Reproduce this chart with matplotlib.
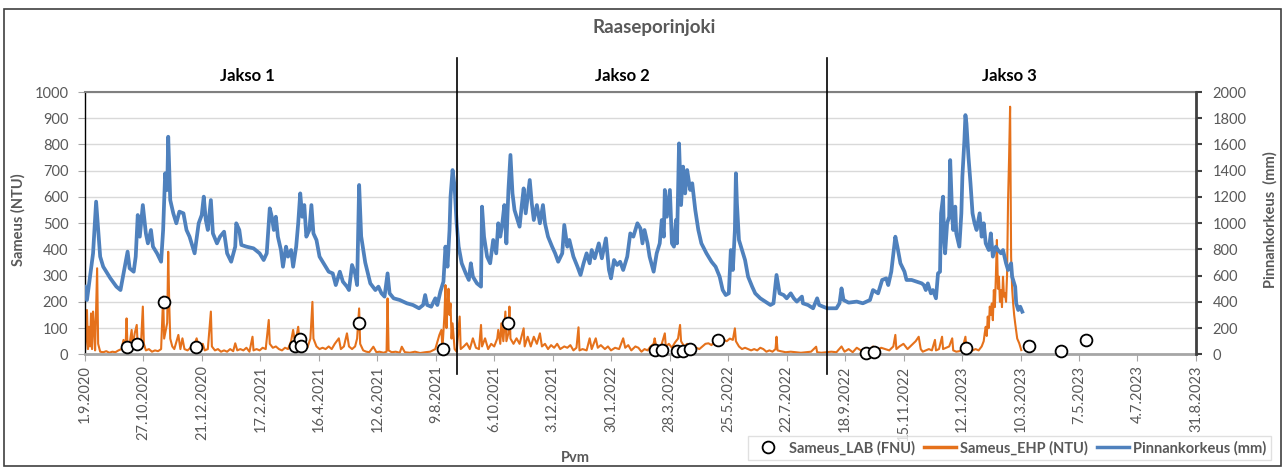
import numpy as np
import matplotlib.pyplot as plt
import matplotlib.dates as mdates
import matplotlib.transforms as mtransforms
from matplotlib.lines import Line2D
from matplotlib.patches import Rectangle

plt.rcParams['font.family'] = ['Lato', 'DejaVu Sans']

###############################################################################
# data: Raaseporinjoki, days counted from 1.9.2020
#
alku = np.datetime64('2020-09-01')
loppu = np.datetime64('2023-08-31')

# Pinnankorkeus (mm), right axis
pv_pinta_1 = [0, 2, 5, 8, 11, 15, 18, 25, 31, 35,
              38, 42, 44, 48, 50, 52, 54, 57, 60, 62,
              65, 67, 71, 75, 77, 79, 81, 82, 83, 84,
              87, 90, 93, 97, 100, 103, 108, 112, 115, 117,
              119, 121, 124, 126, 130, 133, 137, 140, 144, 148,
              149, 152, 154, 159, 166, 172, 176, 179, 182, 184,
              186, 188, 190, 193, 195, 198, 200, 203, 205, 208,
              210, 212, 214, 216, 218, 221, 223, 225, 228, 231,
              236, 240, 244, 247, 251, 254, 258, 260, 263, 266,
              268, 270, 272, 276, 281, 286, 289, 292, 295, 298,
              300, 304, 310, 317, 323, 329, 333, 335, 337, 341,
              345, 347, 350, 353, 355, 357, 359, 360, 362, 364]
mm_pinta_1 = [516, 414, 592, 770, 1164, 745, 668, 580, 516, 490,
              617, 783, 656, 630, 745, 1062, 897, 1138, 922, 846,
              948, 821, 770, 706, 948, 1380, 1253, 1659, 1405, 1176,
              1075, 999, 1088, 1075, 948, 897, 770, 999, 1062, 1202,
              1024, 948, 1176, 922, 846, 897, 935, 770, 706, 821,
              999, 948, 834, 821, 808, 770, 719, 770, 1113, 1049,
              948, 1049, 897, 795, 668, 821, 745, 795, 668, 821,
              999, 1227, 1049, 1138, 897, 948, 1138, 922, 871, 745,
              681, 630, 617, 528, 630, 554, 516, 490, 681, 617,
              528, 1291, 900, 700, 541, 490, 516, 465, 440, 617,
              465, 427, 414, 389, 376, 351, 376, 452, 376, 363,
              427, 376, 478, 554, 821, 668, 948, 1202, 1405, 1278]

pv_pinta_2 = [366, 368, 371, 375, 378, 380, 382, 386, 390, 391,
              393, 396, 399, 402, 405, 407, 409, 411, 413, 415,
              417, 419, 421, 423, 425, 428, 430, 432, 434, 436,
              438, 440, 442, 445, 448, 451, 453, 456, 460, 463,
              466, 470, 472, 475, 477, 481, 485, 488, 491, 494,
              497, 499, 502, 506, 509, 513, 516, 518, 521, 524,
              527, 530, 534, 537, 540, 544, 547, 549, 551, 554,
              556, 560, 563, 566, 568, 570, 571, 573, 576, 578,
              580, 582, 583, 585, 587, 589, 591, 593, 596, 598,
              601, 604, 607, 612, 617, 621, 625, 628, 631, 634,
              636, 638, 640, 641, 642, 644, 647, 650, 653, 657,
              660, 665, 670, 675, 678, 681, 684, 688, 691, 695,
              698, 701, 706, 707, 712, 717, 721, 723, 727, 731]
mm_pinta_2 = [999, 821, 694, 617, 567, 694, 592, 541, 516, 1126,
              897, 745, 694, 872, 770, 999, 897, 999, 1138, 846,
              1253, 1520, 1227, 1100, 1049, 973, 1126, 1265, 1075, 1202,
              1329, 1151, 1024, 1138, 999, 1138, 999, 897, 821, 770,
              706, 770, 986, 821, 872, 745, 668, 605, 694, 770,
              694, 795, 732, 846, 732, 884, 643, 579, 719, 681,
              706, 643, 745, 922, 897, 999, 960, 846, 948, 846,
              745, 630, 770, 846, 1024, 897, 1253, 1049, 1253, 846,
              821, 1024, 846, 1608, 1138, 1431, 1227, 1405, 1253, 1304,
              1100, 948, 846, 770, 706, 668, 592, 490, 452, 465,
              795, 643, 948, 1380, 1151, 872, 795, 719, 592, 516,
              465, 427, 402, 376, 389, 605, 465, 452, 427, 465,
              427, 402, 440, 389, 376, 351, 427, 376, 363, 351]

pv_pinta_3 = [740, 743, 745, 747, 752, 760, 766, 773, 776, 781,
              785, 789, 791, 794, 798, 800, 803, 807, 809, 814,
              819, 824, 826, 828, 830, 833, 835, 838, 840, 842,
              843, 845, 846, 847, 849, 851, 852, 854, 855, 857,
              858, 861, 863, 864, 866, 867, 868, 870, 872, 874,
              876, 878, 881, 883, 885, 887, 890, 892, 894, 897,
              899, 902, 904, 907, 909, 912, 913, 916, 917, 919,
              921, 923]
mm_pinta_3 = [351, 389, 503, 414, 394, 402, 389, 414, 490, 465,
              567, 579, 528, 630, 897, 821, 694, 630, 567, 567,
              554, 541, 528, 490, 541, 465, 490, 427, 617, 630,
              1075, 1202, 872, 770, 999, 1049, 1481, 1049, 948, 1126,
              922, 821, 1075, 1354, 1634, 1824, 1761, 1507, 1304, 1075,
              999, 948, 1075, 897, 999, 846, 795, 922, 745, 821,
              795, 770, 795, 694, 643, 694, 592, 516, 389, 338,
              363, 325]

# Sameus_EHP (NTU), left axis
pv_ehp_1 = [0, 1, 2, 3, 4, 5, 6, 7, 8, 9,
            10, 12, 13, 15, 18, 21, 24, 27, 30, 33,
            36, 38, 40, 41, 42, 44, 46, 47, 49, 51,
            52, 55, 57, 58, 60, 63, 66, 69, 72, 75,
            77, 78, 81, 82, 83, 84, 86, 88, 92, 94,
            96, 98, 101, 104, 107, 110, 112, 114, 116, 118,
            121, 124, 125, 128, 131, 134, 137, 140, 143, 146,
            148, 150, 153, 156, 159, 162, 165, 166, 169, 172,
            175, 178, 181, 182, 185, 188, 191, 194, 197, 200,
            203, 205, 207, 210, 211, 213, 216, 219, 222, 224,
            225, 228, 231, 234, 237, 240, 243, 246, 250, 252,
            255, 258, 260, 263, 266, 268, 270, 271, 274, 277,
            280, 284, 287, 290, 294, 297, 298, 299, 302, 306,
            310, 312, 315, 320, 325, 330, 335, 340, 345, 349,
            351, 352, 354, 355, 356, 357, 358, 359, 360, 361,
            362, 364]
ntu_ehp_1 = [10, 60, 169, 20, 105, 30, 156, 20, 163, 105,
             15, 328, 40, 10, 8, 12, 6, 10, 8, 15,
             20, 55, 25, 137, 20, 40, 93, 30, 80, 112,
             30, 25, 182, 40, 15, 20, 10, 15, 12, 20,
             220, 60, 120, 391, 194, 60, 30, 20, 74, 20,
             61, 20, 15, 25, 30, 61, 30, 20, 40, 15,
             20, 163, 30, 15, 20, 10, 15, 10, 20, 12,
             42, 15, 20, 15, 25, 10, 67, 15, 20, 15,
             25, 20, 131, 40, 25, 30, 20, 15, 25, 20,
             50, 93, 40, 105, 60, 30, 40, 25, 60, 200,
             60, 30, 20, 25, 20, 30, 20, 40, 61, 20,
             30, 80, 30, 20, 30, 60, 175, 40, 15, 10,
             8, 29, 8, 10, 6, 10, 213, 15, 8, 10,
             6, 29, 8, 6, 10, 5, 8, 10, 20, 74,
             93, 20, 150, 264, 100, 182, 250, 150, 194, 60,
             118, 20]

pv_ehp_2 = [366, 369, 370, 373, 376, 379, 382, 385, 388, 390,
            391, 394, 397, 400, 403, 406, 407, 409, 410, 412,
            414, 415, 417, 418, 419, 422, 425, 428, 432, 433,
            436, 439, 442, 445, 448, 450, 453, 456, 459, 462,
            465, 468, 472, 475, 478, 481, 484, 486, 487, 490,
            494, 497, 499, 503, 505, 508, 512, 515, 518, 522,
            526, 530, 532, 535, 538, 542, 545, 548, 551, 554,
            557, 560, 561, 563, 566, 568, 571, 572, 575, 578,
            581, 584, 586, 587, 590, 593, 596, 599, 602, 605,
            608, 611, 614, 617, 620, 623, 626, 629, 632, 635,
            638, 640, 641, 644, 647, 650, 653, 656, 659, 662,
            665, 668, 671, 674, 677, 680, 681, 682, 685, 690,
            695, 700, 705, 710, 715, 720, 721, 725, 730]
ntu_ehp_2 = [10, 144, 20, 30, 42, 20, 61, 25, 20, 112,
             30, 61, 20, 40, 30, 60, 93, 40, 118, 50,
             163, 50, 80, 182, 60, 40, 61, 40, 99, 30,
             67, 30, 67, 40, 80, 30, 40, 20, 35, 25,
             40, 20, 30, 25, 35, 15, 25, 103, 15, 20,
             15, 61, 20, 61, 25, 35, 20, 30, 15, 25,
             20, 61, 25, 35, 15, 30, 25, 10, 20, 15,
             30, 40, 61, 20, 25, 40, 80, 30, 40, 25,
             45, 60, 112, 50, 30, 40, 20, 15, 25, 20,
             30, 40, 42, 35, 50, 55, 45, 55, 50, 60,
             55, 99, 50, 30, 20, 25, 20, 15, 20, 15,
             25, 20, 10, 15, 10, 20, 67, 15, 12, 8,
             10, 8, 6, 8, 10, 29, 8, 6, 8]

pv_ehp_3 = [735, 740, 745, 748, 752, 756, 760, 764, 768, 772,
            776, 780, 784, 788, 792, 796, 798, 799, 802, 806,
            810, 814, 818, 821, 823, 825, 828, 831, 834, 837,
            838, 841, 844, 845, 848, 851, 854, 855, 858, 861,
            864, 867, 868, 871, 874, 877, 880, 883, 885, 886,
            887, 888, 889, 890, 891, 892, 893, 894, 895, 896,
            897, 898, 899, 900, 901, 902, 903, 904, 905, 906,
            907, 908, 909, 910, 911, 912, 913, 914, 915, 916,
            918, 920, 922]
ntu_ehp_3 = [10, 8, 30, 10, 20, 8, 25, 15, 20, 10,
             30, 15, 25, 20, 15, 30, 74, 20, 30, 40,
             20, 35, 50, 67, 20, 10, 15, 20, 15, 55,
             15, 20, 67, 20, 25, 30, 61, 15, 10, 12,
             20, 67, 20, 10, 15, 20, 15, 30, 50, 80,
             105, 70, 144, 100, 182, 150, 194, 130, 245, 180,
             300, 436, 250, 296, 200, 245, 180, 296, 220, 233,
             200, 302, 588, 750, 944, 372, 250, 194, 150, 118,
             60, 42, 16]

# Sameus_LAB (FNU), lab samples
lab_pvm = ['2020-10-12', '2020-10-22', '2020-11-18', '2020-12-19',
           '2021-03-27', '2021-04-01', '2021-04-02', '2021-05-29',
           '2021-08-20', '2021-10-23', '2022-03-16', '2022-03-23',
           '2022-04-07', '2022-04-13', '2022-04-20', '2022-05-17',
           '2022-10-10', '2022-10-18', '2023-01-17', '2023-03-20',
           '2023-04-20', '2023-05-15']
lab_fnu = [29, 40, 200, 29, 31, 58, 31, 120, 20, 120, 17, 17,
           14, 14, 21, 55, 5, 7, 24, 32, 12, 54]

# period borders and names
jakso_rajat = ['2021-09-02', '2022-09-02']
jaksot = ['Jakso 1', 'Jakso 2', 'Jakso 3']

pvm_tekstit = ['1.9.2020', '27.10.2020', '21.12.2020', '17.2.2021', '16.4.2021',
               '12.6.2021', '9.8.2021', '6.10.2021', '3.12.2021', '30.1.2022',
               '28.3.2022', '25.5.2022', '22.7.2022', '18.9.2022', '15.11.2022',
               '12.1.2023', '10.3.2023', '7.5.2023', '4.7.2023', '31.8.2023']

###############################################################################
SININEN = '#4F81BD'
ORANSSI = '#E5711B'
HARMAA = '#595959'

def paivat(pv):
    return alku + np.array(pv).astype('timedelta64[D]')

x_pinta = paivat(pv_pinta_1 + pv_pinta_2 + pv_pinta_3)
y_pinta = mm_pinta_1 + mm_pinta_2 + mm_pinta_3
x_ehp = paivat(pv_ehp_1 + pv_ehp_2 + pv_ehp_3)
y_ehp = ntu_ehp_1 + ntu_ehp_2 + ntu_ehp_3
x_lab = np.array(lab_pvm, dtype='datetime64[D]')

fig = plt.figure(figsize=(12.85, 4.68), dpi=100)
ax = fig.add_axes([0.0661, 0.2429, 0.8646, 0.5605])
ax2 = ax.twinx()

ax.plot(x_ehp, y_ehp, color=ORANSSI, lw=1.5)
ax2.plot(x_pinta, y_pinta, color=SININEN, lw=2.7)
ax2.plot(x_lab, lab_fnu, ls='none', marker='o', ms=8.5, mfc='white',
         mec='black', mew=1.3, transform=ax.transData, clip_on=False, zorder=5)

# axes
ax.set_xlim(alku, loppu)
ax.set_ylim(0, 1000)
ax2.set_ylim(0, 2000)
ax.set_yticks(range(0, 1001, 100))
ax2.set_yticks(range(0, 2001, 200))
x0, x1 = mdates.date2num(alku), mdates.date2num(loppu)
ax.set_xticks(np.linspace(x0, x1, len(pvm_tekstit)))
ax.set_xticklabels(pvm_tekstit, rotation=90)

ax.yaxis.grid(True, color='#D9D9D9', lw=1)
ax.set_axisbelow(True)

ax.spines['right'].set_visible(False)
ax.spines['left'].set_color('black')
ax.spines['left'].set_linewidth(1)
ax.spines['bottom'].set_color('#A6A6A6')
ax.spines['bottom'].set_linewidth(2)
ax.spines['top'].set_color('#808080')
ax.spines['top'].set_linewidth(1.5)
for s in ['left', 'top', 'bottom']:
    ax2.spines[s].set_visible(False)
ax2.spines['right'].set_color('#404040')
ax2.spines['right'].set_linewidth(2)

ax.tick_params(axis='y', length=5, color='#A6A6A6', labelcolor=HARMAA,
               labelsize=10.5, pad=7)
ax.tick_params(axis='x', length=5, color='#A6A6A6', labelcolor=HARMAA,
               labelsize=10.5, pad=3)
ax2.tick_params(axis='y', length=4, width=1.5, color='#404040',
                labelcolor=HARMAA, labelsize=10.5, pad=8)

# period borders and labels
trans = mtransforms.blended_transform_factory(ax2.transData, ax2.transAxes)
for r in jakso_rajat:
    xr = mdates.date2num(np.datetime64(r))
    ax2.plot([xr, xr], [-0.075, 1.13], color='black', lw=1.2,
             transform=trans, clip_on=False)
for xf, nimi in zip([0.146, 0.484, 0.832], jaksot):
    ax.text(xf, 1.061, nimi, transform=ax.transAxes, ha='center', va='center',
            fontsize=12, fontweight='bold', color='black')

# titles
fig.text(654 / 1285, 1 - 27 / 468, 'Raaseporinjoki', ha='center', va='center',
         fontsize=13.5, fontweight='bold', color=HARMAA)
fig.text(18 / 1285, 1 - 220 / 468, 'Sameus (NTU)', rotation=90, ha='center',
         va='center', fontsize=10.5, fontweight='bold', color=HARMAA)
fig.text(1270 / 1285, 1 - 220 / 468, 'Pinnankorkeus  (mm)', rotation=90,
         ha='center', va='center', fontsize=10.5, fontweight='bold', color=HARMAA)
fig.text(575 / 1285, 1 - 458 / 468, 'Pvm', ha='center', va='center',
         fontsize=10.5, fontweight='bold', color=HARMAA)

# legend
kahvat = [Line2D([], [], ls='none', marker='o', ms=8.5, mfc='white',
                 mec='black', mew=1.3),
          Line2D([], [], color=ORANSSI, lw=2.5),
          Line2D([], [], color=SININEN, lw=2.5)]
leg = fig.legend(kahvat, ['Sameus_LAB (FNU)', 'Sameus_EHP (NTU)', 'Pinnankorkeus (mm)'],
                 loc='lower right', bbox_to_anchor=(1278 / 1285, 1 / 468), ncol=3,
                 frameon=True, fancybox=False, edgecolor='#D9D9D9',
                 prop={'weight': 'bold', 'size': 10.5}, labelcolor=HARMAA,
                 handlelength=2.2, handletextpad=0.3, columnspacing=0.6,
                 borderpad=0.3)

# chart border
fig.patches.append(Rectangle((0.003, 0.004), 0.994, 0.977, transform=fig.transFigure,
                             fill=False, edgecolor='#404040', lw=1.2))

fig.savefig('out.png', dpi=100)
